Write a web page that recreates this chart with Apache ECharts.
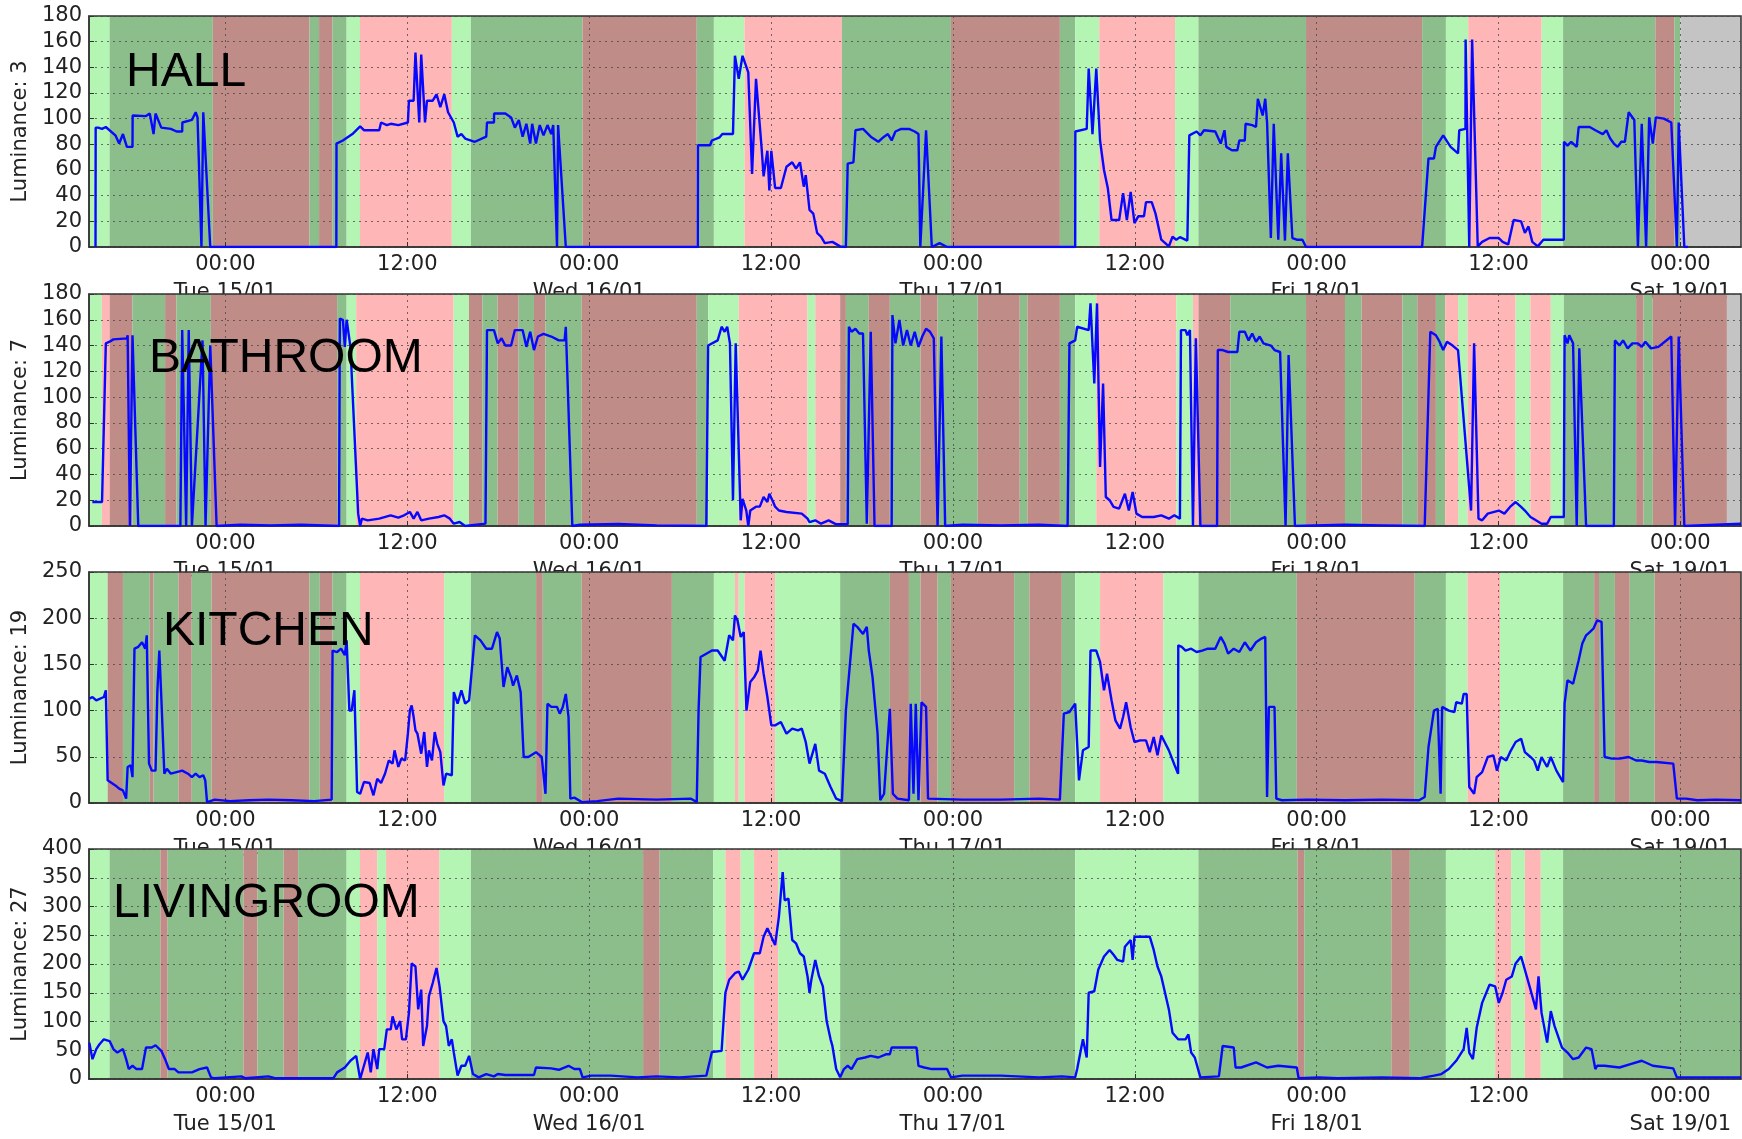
<!DOCTYPE html>
<html><head><meta charset="utf-8">
<script src="https://cdn.jsdelivr.net/npm/echarts@6/dist/echarts.min.js"></script>
<style>html,body{margin:0;padding:0;background:#fff}#c{width:1742px;height:1139px}</style>
</head><body><div id="c"></div><script>
// x values: hours relative to Tue 15/01 00:00
const tickHours = [0,12,24,36,48,60,72,84,96];
const dayLabels = ['Tue 15/01','Wed 16/01','Thu 17/01','Fri 18/01','Sat 19/01'];
const roomNames = ['HALL','BATHROOM','KITCHEN','LIVINGROOM'];
const sensorIds = [3,7,19,27];
const yMaxes = [180,180,250,400];
const ySteps = [20,20,50,50];

const hallLine = [[-8.57,0],[-8.56,93],[-8.40,93],[-8.14,92],[-7.89,93.5],[-7.26,87],[-7.01,80.6],[-6.76,88],[-6.50,78],[-6.13,78],[-6.12,102.5],[-5.24,102],[-4.99,104],[-4.74,88],[-4.61,104],[-4.23,93],[-3.60,92],[-3.22,90],[-2.85,90],[-2.84,97],[-2.21,99],[-1.96,105],[-1.84,101],[-1.58,0],[-1.46,105],[-1.00,0],
[7.32,0],[7.33,80.6],[7.75,83],[8.38,88],[8.89,94],[9.14,91],[10.15,91],[10.27,97],[10.65,95],[10.91,96],[11.41,95],[12.04,97],[12.11,114],[12.42,114],[12.54,151.6],[12.79,97],[12.92,150],[13.17,97],[13.30,114],[13.68,114],[13.93,119],[14.18,109],[14.44,119],[14.69,105],[15.07,97],[15.32,86],[15.57,88],[15.82,84.5],[16.46,82],[17.21,86],[17.26,97],[17.72,97],[17.73,104],[18.47,104],[18.85,101],[19.10,93],[19.36,99],[19.61,86],[19.86,96],[20.11,80.6],[20.24,96],[20.49,80.6],[20.74,95],[20.99,87],[21.25,95],[21.50,88],[21.63,95],[21.88,0],[21.95,95],[22.46,0],
[31.17,0],[31.18,79.3],[31.98,79.3],[32.10,83],[32.61,85.5],[32.79,88],[33.49,88],[33.62,149],[33.87,131],[34.12,149],[34.50,136],[34.75,57],[35.01,131],[35.38,77],[35.51,55],[35.76,75],[35.89,44],[36.02,75],[36.27,46],[36.65,46],[37.02,62.5],[37.40,66],[37.65,61],[37.91,66],[38.16,47],[38.29,56],[38.54,29],[38.79,26],[39.04,11],[39.30,8],[39.55,3],[40.05,4],[40.56,0.5],[40.94,0],[41.06,65],[41.44,66],[41.57,91],[42.07,92],[42.58,86],[43.08,82],[43.46,86],[43.71,88],[43.96,83],[44.21,90],[44.59,92],[45.10,92],[45.48,90],[45.73,88],[45.85,0],[46.23,91],[46.61,0],[47.12,3],[47.62,0],
[56.07,0],[56.08,90],[56.83,92],[56.96,139],[57.21,88],[57.46,139],[57.71,83],[57.97,60],[58.22,46],[58.47,21],[58.97,21],[59.23,42],[59.48,21],[59.73,43],[59.98,18.6],[60.24,24],[60.61,24],[60.74,35],[61.12,35],[61.37,26],[61.75,5.7],[62.25,0.5],[62.49,8],[62.74,5.7],[62.98,7.7],[63.47,5],[63.59,5.7],[63.60,87],[64.08,90],[64.33,87],[64.57,91],[65.31,90],[65.67,80.6],[65.92,91],[66.04,78],[66.41,75.4],[66.77,75.4],[66.90,83],[67.26,83],[67.31,96],[67.75,95],[68.00,93.5],[68.12,115.5],[68.44,102.5],[68.61,115.5],[68.73,97],[68.98,7],[69.17,96],[69.47,5.7],[69.66,73],[69.91,5],[70.10,73],[70.40,7],[70.69,5.7],[71.06,5.7],[71.30,0],
[78.96,0],[79.38,69],[79.74,69],[79.87,78],[80.35,87],[80.84,78],[81.33,73],[81.41,91],[81.82,92],[81.83,161.6],[82.07,0],[82.26,161.6],[82.63,0.5],[82.92,4],[83.41,7],[84.02,7],[84.27,4],[84.64,2],[85.00,21],[85.49,20],[85.74,11],[85.98,16],[86.23,4],[86.59,0.5],[86.96,5.7],[88.31,5.7],[88.32,82],[88.55,79],[88.80,82],[89.16,78],[89.29,93.5],[90.02,93.5],[90.39,91],[90.88,88],[91.12,91],[91.37,84.5],[91.61,80.6],[91.86,78],[92.10,82],[92.34,82],[92.59,105],[92.96,99],[93.20,0],[93.45,96],[93.74,0],[93.94,101],[94.18,80.6],[94.38,101],[94.91,100],[95.40,97],[95.77,0],[95.89,97],[96.26,0],[96.50,0]];

const bathLine = [[-8.78,18.6],[-8.14,18.6],[-7.89,141.7],[-7.64,143],[-7.39,144.8],[-6.50,145.6],[-6.45,148],[-6.30,0],[-6.13,148],[-5.75,0],[-2.97,0],[-2.85,152],[-2.59,0],[-2.42,152],[-2.21,0],[-1.51,144],[-1.31,0],[-1.00,140],[-0.58,0],[1.0,1],[3.0,0.5],[5.0,1],[7.50,0],[7.55,161],[7.75,160],[7.88,139],[8.00,160],[8.25,139],[8.76,9.6],[8.89,0],[9.01,5.7],[9.39,4.4],[10.15,5.7],[10.90,8.3],[11.41,6.5],[11.79,8.3],[12.17,10.9],[12.42,5.7],[12.67,10.9],[12.92,4.4],[13.43,5.7],[14.06,7],[14.44,8.3],[14.81,5.7],[15.07,1.8],[15.45,3.1],[15.82,0],[17.16,1.8],[17.26,152],[17.72,152],[17.97,141.7],[18.22,145.6],[18.47,140],[18.85,140],[19.10,152],[19.61,152],[19.86,139],[20.11,150.7],[20.36,136.5],[20.62,147],[20.99,149],[21.50,147],[22.00,144],[22.38,144],[22.46,154.6],[22.89,0],
[23.40,1],[25.92,1.5],[28.45,0.5],[31.73,0],[31.85,140],[32.48,144],[32.74,154.6],[32.94,150.7],[33.11,154.6],[33.29,141.7],[33.49,20],[33.67,141.7],[34.00,4.4],[34.12,21],[34.37,12],[34.50,0],[34.63,12],[35.01,15],[35.26,15],[35.51,22.5],[35.76,18.6],[35.89,25],[36.14,18.6],[36.27,15],[36.52,12],[37.02,10.9],[38.03,9.6],[38.41,5.7],[38.54,3],[38.92,4.4],[39.30,1.8],[39.80,4.4],[40.30,1.3],[41.06,1.3],[41.14,154.6],[41.31,150.7],[41.57,153],[41.82,149.4],[42.07,149.4],[42.32,1.8],[42.58,150.7],[42.83,0],[43.96,0],[44.01,163.7],[44.21,141.7],[44.47,159.8],[44.72,140],[44.97,152],[45.22,140],[45.48,150.7],[45.73,139],[45.98,147],[46.23,153],[46.49,150.7],[46.74,145.6],[46.99,0],[47.24,147],[47.49,0],[48.63,1],[51.15,0.5],[53.68,1],[55.57,0],[55.69,141.7],[56.07,144],[56.20,154.6],[56.96,152],[57.08,172.7],[57.33,110.6],[57.51,172.7],[57.71,45.8],[57.91,110.6],[58.09,22.5],[58.34,20],[58.60,14.8],[58.97,13.5],[59.35,25],[59.61,12],[59.86,26.4],[60.11,9.6],[60.49,7],[61.25,7],[61.75,8.3],[62.25,5.7],[62.61,8.3],[62.98,5.7],[63.05,152],[63.35,152],[63.47,148],[63.64,152],[63.84,0],[64.03,145.6],[64.33,0],[65.43,0],[65.48,136.5],[65.80,136.5],[66.16,135],[66.77,135],[66.90,150.7],[67.26,150.7],[67.51,144],[67.75,149.4],[68.00,143],[68.24,147],[68.49,141.7],[68.98,140],[69.22,136.5],[69.59,135],[69.95,0],[70.15,132.6],[70.57,0],[73.87,1],[76.32,0.5],[79.13,0],[79.50,150.7],[79.87,148],[80.11,143],[80.35,136.5],[80.60,143],[80.97,140],[81.33,136.5],[82.19,12],[82.39,141.7],[82.68,5.7],[82.92,4.4],[83.29,9.6],[84.02,12],[84.39,9.6],[84.76,14.8],[85.13,18.6],[85.49,14.8],[85.74,12],[86.11,7],[86.47,4.4],[86.84,1.8],[87.21,1.8],[87.45,7],[88.31,7],[88.36,148],[88.55,141.7],[88.67,148],[88.92,141.7],[89.16,0],[89.33,137.8],[89.78,0],[91.61,0],[91.68,144],[91.98,140],[92.22,144],[92.52,137.8],[92.83,141.7],[93.20,141.7],[93.45,139],[93.69,143],[94.06,137.8],[94.55,139],[95.40,147],[95.65,0],[95.89,147],[96.26,0],[100,1.8]];

const kitchenLine = [[-8.98,113],[-8.77,114.7],[-8.52,111],[-8.02,114.7],[-7.89,122],[-7.77,24.5],[-7.26,19],[-7.01,15.5],[-6.76,13.7],[-6.55,4.7],[-6.45,39],[-6.25,40.8],[-6.13,28],[-6.00,167],[-5.75,169],[-5.50,174],[-5.29,167],[-5.19,181.5],[-5.04,42.6],[-4.86,35],[-4.61,35],[-4.49,120],[-4.36,165],[-4.23,114.7],[-4.03,31.7],[-3.86,37],[-3.60,31.7],[-2.85,35],[-2.47,31.7],[-2.21,28],[-1.96,31.7],[-1.71,28],[-1.46,30],[-1.33,24.5],[-1.21,1],[-0.70,3.6],[0.31,2],[1.57,3],[2.83,3.6],[4.34,3],[5.86,2],[7.01,3.6],[7.07,165],[7.37,163.4],[7.63,167],[7.88,160],[8.00,176],[8.18,100],[8.33,100],[8.51,122],[8.69,12],[8.89,10],[9.14,22.7],[9.52,21.6],[9.77,8.3],[10.02,26.3],[10.27,21.6],[10.53,31.7],[10.78,46],[11.03,42.6],[11.16,57],[11.41,39],[11.61,48],[11.86,46],[12.04,75],[12.17,100],[12.29,105.7],[12.42,93],[12.54,78.6],[12.67,75],[12.92,53.4],[13.12,76.8],[13.30,39],[13.43,57],[13.63,46],[13.81,76.8],[13.98,64],[14.18,55],[14.39,19],[14.56,31.7],[14.94,30],[15.07,120],[15.32,107.5],[15.57,122],[15.82,107.5],[16.08,111],[16.46,181.5],[16.83,176],[17.21,167],[17.59,167],[17.92,185],[18.10,178],[18.35,125.6],[18.60,147],[18.85,136],[18.98,127],[19.23,138],[19.48,120],[19.68,49.8],[19.99,49.8],[20.49,55],[20.87,49.8],[21.12,10],[21.25,107.5],[21.50,104],[21.88,104],[22.06,96.7],[22.26,104],[22.46,118],[22.64,93],[22.76,4.7],[23.02,5.8],[23.52,1],[24.53,2],[25.92,4.7],[28.45,3.6],[30.72,4.7],[31.10,1],[31.22,100],[31.35,158],[31.73,161.6],[32.10,165],[32.48,165],[32.94,154],[33.24,181.5],[33.49,176],[33.62,203],[33.79,197.6],[34.00,179.7],[34.20,185],[34.38,100],[34.63,131],[34.88,136],[35.13,143.6],[35.31,165],[35.51,140],[35.76,114.7],[36.02,84],[36.27,84],[36.65,87.7],[37.02,75],[37.40,80.5],[37.78,78.6],[38.03,80.5],[38.29,66],[38.54,42.6],[38.92,64],[39.17,35],[39.55,31.7],[39.93,17.3],[40.30,4.7],[40.68,2],[40.94,100],[41.19,147],[41.44,194],[41.69,190.6],[42.07,183],[42.32,190.6],[42.45,165],[42.70,136],[42.83,138],[43.03,75],[43.21,3],[43.46,10],[43.84,102],[44.04,10],[44.34,4.7],[45.10,3],[45.22,107.5],[45.40,10],[45.55,107.5],[45.73,3],[45.93,109],[46.23,104],[46.36,4.7],[48.63,3.6],[51.15,3.6],[53.68,4.7],[55.06,3.6],[55.32,96.7],[55.69,98.5],[56.07,107.5],[56.20,107.5],[56.32,24.5],[56.58,57],[56.96,60.6],[57.08,165],[57.46,165],[57.71,152.6],[57.97,122],[58.17,140],[58.47,111],[58.72,89.5],[59.03,80.5],[59.23,93],[59.43,109],[59.73,82],[59.98,66],[60.36,67.8],[60.74,67.8],[60.99,55],[61.25,71.4],[61.50,51.6],[61.75,73],[62.25,57],[62.63,40.8],[62.86,31.7],[62.87,170.6],[63.10,169],[63.35,165],[63.72,167],[64.08,163.4],[64.45,165],[64.82,167],[65.31,167],[65.67,179.7],[65.92,172.5],[66.16,161.6],[66.53,167],[66.90,163.4],[67.26,174],[67.63,165],[68.00,174],[68.36,178],[68.61,179.7],[68.73,6.5],[68.85,104],[69.22,104],[69.34,4.7],[69.71,3],[71.42,3.6],[73.87,3],[76.32,3.6],[78.76,3],[79.13,6.5],[79.38,60.6],[79.74,100],[79.99,102],[80.18,10],[80.28,104],[80.72,100],[81.09,98.5],[81.21,109],[81.58,107.5],[81.70,118],[81.90,118],[82.07,17.3],[82.39,10],[82.56,28],[82.92,33.5],[83.29,49.8],[83.66,51.6],[83.90,35],[84.15,49.8],[84.51,46],[84.76,55],[85.13,66],[85.49,69.6],[85.74,55],[86.11,49.8],[86.35,46],[86.59,35],[86.84,49.8],[87.21,39],[87.45,49.8],[87.82,35],[88.26,22.7],[88.36,107.5],[88.55,132.8],[88.92,129],[89.29,154.4],[89.53,172.5],[89.78,181.5],[90.02,185],[90.26,188.7],[90.51,197.7],[90.80,196],[91.00,49.8],[91.49,48],[91.98,48],[92.59,49.8],[93.08,46],[93.45,46],[93.94,44.4],[94.42,44.4],[95.53,42.6],[95.77,4.7],[96.38,4.7],[97.12,3],[98.34,3.6],[100,3]];

const livingLine = [[-8.98,63],[-8.77,34.5],[-8.52,52],[-8.32,60],[-8.02,69],[-7.64,66],[-7.39,52],[-7.13,46],[-6.76,52],[-6.55,34.5],[-6.38,17.3],[-6.13,23],[-5.87,17.3],[-5.50,17.3],[-5.24,54.7],[-4.86,54.7],[-4.61,58.7],[-4.23,49],[-3.98,34.5],[-3.73,17.3],[-3.35,17.3],[-3.10,11.5],[-2.21,11.5],[-1.71,17.3],[-1.21,20],[-0.95,2.9],[-0.70,1.2],[1.06,4.6],[1.32,1.2],[2.83,4.6],[3.34,1.2],[5.35,1.2],[7.12,1.2],[7.37,11.5],[7.88,20],[8.25,31.7],[8.63,40.3],[8.89,0],[9.14,23],[9.39,46],[9.59,11.5],[9.77,52],[10.02,17.3],[10.15,52],[10.48,52],[10.65,86.3],[10.91,86.3],[11.03,109],[11.28,86.3],[11.53,100.7],[11.66,69],[11.91,69],[12.11,115],[12.29,201],[12.54,195.7],[12.72,121],[12.92,155.4],[13.05,57.5],[13.30,92],[13.43,144],[13.68,167],[13.93,193],[14.13,161],[14.39,100.7],[14.56,92],[14.74,57.5],[14.94,69],[15.07,46],[15.32,5.8],[15.57,23],[15.82,23],[16.08,40.3],[16.33,8.6],[16.71,2.9],[17.21,8.6],[17.72,4.6],[17.97,8.6],[18.47,6.9],[20.36,6.9],[20.49,20],[21.50,18.4],[22.00,16],[22.64,23],[23.02,17.3],[23.39,17.3],[23.57,2.9],[24.15,5.8],[25.42,5.8],[27.18,2.9],[28.45,4.6],[29.96,2.9],[31.73,5.8],[32.10,47],[32.74,49],[32.99,150],[33.24,172.6],[33.62,184],[33.87,187],[34.12,172.6],[34.30,181],[34.50,190],[34.88,218.7],[35.26,218.7],[35.51,247.5],[35.76,262],[36.02,247.5],[36.27,233],[36.52,282],[36.77,359.7],[36.90,310.8],[37.15,313.7],[37.40,241.7],[37.65,236],[37.91,218.7],[38.16,213],[38.41,178.4],[38.54,150],[38.66,172.6],[38.92,207],[39.17,178.4],[39.42,161],[39.67,100.7],[39.93,69],[40.05,57.5],[40.30,17.3],[40.56,2.9],[40.81,17.3],[41.06,23],[41.31,17.3],[41.69,34.5],[42.20,37.4],[42.58,40.3],[43.08,37.4],[43.58,43],[43.84,43],[43.96,54.7],[45.60,54.7],[45.73,23],[46.11,20],[46.61,17.3],[47.62,17.3],[47.87,2.9],[48.63,5.8],[51.15,5.8],[53.68,2.9],[55.19,4.6],[56.07,2.9],[56.20,17.3],[56.58,69],[56.83,37.4],[56.96,150],[57.33,152.6],[57.59,190],[57.97,213],[58.34,224.5],[58.60,216],[58.85,207],[59.23,204],[59.35,230],[59.73,241.7],[59.86,207],[59.98,247.5],[60.99,247.5],[61.25,224.5],[61.50,195.7],[61.75,178.4],[62.25,121],[62.49,80.6],[62.86,69],[63.35,69],[63.54,77.7],[63.72,46],[63.96,37.4],[64.33,2.9],[65.55,4.6],[65.80,57.5],[66.53,54.7],[66.65,20],[67.02,20],[68.00,28.8],[68.73,20],[69.47,23],[70.69,20],[70.81,1.2],[72.16,2.9],[73.38,1.2],[76.32,2.9],[78.76,1.2],[79.74,5.8],[80.23,8.6],[80.72,17.3],[81.21,31.7],[81.70,52],[81.90,89],[82.07,46],[82.31,34.5],[82.56,89],[82.92,132.4],[83.41,164],[83.78,161],[84.02,132.4],[84.27,150],[84.51,172.6],[84.88,178.4],[85.13,201],[85.49,213],[85.74,190],[86.11,155.4],[86.47,121],[86.64,178.4],[86.84,115],[87.21,63.3],[87.45,118],[87.70,92],[88.19,54.7],[88.55,46],[88.92,34.5],[89.29,37.4],[89.78,54.7],[90.14,52],[90.39,17.3],[90.51,23],[91.00,23],[91.98,20],[92.71,25.9],[93.45,31.7],[94.18,23],[95.53,18.4],[95.77,2.9],[97.12,2.9],[100,2.9]];

// background states: [start hour, end hour, state]
const hallBands = [[-9,-7.64,'L'],[-7.64,-0.83,'D'],[-0.83,5.55,'B'],[5.55,6.18,'D'],[6.18,7.07,'B'],[7.07,8.0,'D'],[8.0,8.88,'L'],[8.88,14.94,'P'],[14.94,16.2,'L'],[16.2,23.57,'D'],[23.57,31.1,'B'],[31.1,32.23,'D'],[32.23,34.25,'L'],[34.25,40.68,'P'],[40.68,47.87,'D'],[47.87,55.06,'B'],[55.06,56.07,'D'],[56.07,57.66,'L'],[57.66,62.66,'P'],[62.66,64.2,'L'],[64.2,71.3,'D'],[71.3,78.96,'B'],[78.96,80.53,'D'],[80.53,82.0,'L'],[82.0,86.85,'P'],[86.85,88.26,'L'],[88.26,94.35,'D'],[94.35,95.6,'B'],[95.6,96.0,'D'],[96.0,100,'G']];
const bathBands = [[-9,-8.15,'L'],[-8.15,-7.64,'P'],[-7.64,-6.13,'B'],[-6.13,-3.98,'D'],[-3.98,-3.23,'B'],[-3.23,-0.96,'D'],[-0.96,7.37,'B'],[7.37,8.0,'D'],[8.0,8.63,'L'],[8.63,15.06,'P'],[15.06,16.07,'L'],[16.07,16.95,'B'],[16.95,17.96,'D'],[17.96,19.35,'B'],[19.35,20.36,'D'],[20.36,21.12,'B'],[21.12,23.51,'D'],[23.51,31.1,'B'],[31.1,31.85,'D'],[31.85,33.87,'L'],[33.87,38.41,'P'],[38.41,38.92,'L'],[38.92,40.56,'P'],[40.56,40.94,'B'],[40.94,42.45,'D'],[42.45,43.84,'B'],[43.84,45.86,'D'],[45.86,46.99,'B'],[46.99,49.64,'D'],[49.64,52.41,'B'],[52.41,52.92,'D'],[52.92,55.06,'B'],[55.06,56.07,'D'],[56.07,57.46,'L'],[57.46,62.74,'P'],[62.74,63.84,'L'],[63.84,64.2,'P'],[64.2,66.3,'B'],[66.3,71.3,'D'],[71.3,73.87,'B'],[73.87,74.97,'D'],[74.97,77.66,'B'],[77.66,78.64,'D'],[78.64,79.87,'B'],[79.87,80.48,'D'],[80.48,81.33,'P'],[81.33,81.95,'L'],[81.95,85.13,'P'],[85.13,86.1,'L'],[86.1,87.45,'P'],[87.45,88.31,'L'],[88.31,93.08,'D'],[93.08,93.57,'B'],[93.57,94.18,'D'],[94.18,99.07,'B'],[99.07,100,'G']];
const kitchenBands = [[-9,-7.77,'L'],[-7.77,-6.76,'B'],[-6.76,-4.99,'D'],[-4.99,-4.74,'B'],[-4.74,-3.1,'D'],[-3.1,-2.22,'B'],[-2.22,-0.91,'D'],[-0.91,5.55,'B'],[5.55,6.23,'D'],[6.23,7.07,'B'],[7.07,8.0,'D'],[8.0,8.88,'L'],[8.88,14.43,'P'],[14.43,16.2,'L'],[16.2,20.5,'D'],[20.5,20.94,'B'],[20.94,23.51,'D'],[23.51,29.46,'B'],[29.46,32.23,'D'],[32.23,33.62,'L'],[33.62,33.87,'P'],[33.87,34.25,'L'],[34.25,36.27,'P'],[36.27,40.56,'L'],[40.56,43.84,'D'],[43.84,45.1,'B'],[45.1,45.86,'D'],[45.86,46.99,'B'],[46.99,47.87,'D'],[47.87,52.04,'B'],[52.04,53.05,'D'],[53.05,55.19,'B'],[55.19,56.07,'D'],[56.07,57.71,'L'],[57.71,61.88,'P'],[61.88,64.2,'L'],[64.2,70.69,'D'],[70.69,78.47,'B'],[78.47,80.53,'D'],[80.53,81.95,'L'],[81.95,84.1,'P'],[84.1,88.26,'L'],[88.26,90.31,'D'],[90.31,90.63,'B'],[90.63,91.68,'D'],[91.68,92.66,'B'],[92.66,94.3,'D'],[94.3,100,'B']];
const livingBands = [[-9,-7.64,'L'],[-7.64,-4.29,'D'],[-4.29,-3.81,'B'],[-3.81,1.19,'D'],[1.19,2.12,'B'],[2.12,3.84,'D'],[3.84,4.8,'B'],[4.8,8.0,'D'],[8.0,8.88,'L'],[8.88,10.02,'P'],[10.02,10.6,'L'],[10.6,14.13,'P'],[14.13,16.2,'L'],[16.2,27.56,'D'],[27.56,28.65,'B'],[28.65,32.18,'D'],[32.18,32.99,'L'],[32.99,34.0,'P'],[34.0,34.88,'L'],[34.88,36.47,'P'],[36.47,40.56,'L'],[40.56,56.07,'D'],[56.07,64.2,'L'],[64.2,70.74,'D'],[70.74,71.18,'B'],[71.18,76.93,'D'],[76.93,78.15,'B'],[78.15,80.53,'D'],[80.53,83.78,'L'],[83.78,84.83,'P'],[84.83,85.74,'L'],[85.74,86.79,'P'],[86.79,88.26,'L'],[88.26,100,'D']];

const lines = [hallLine, bathLine, kitchenLine, livingLine];
const bands = [hallBands, bathBands, kitchenBands, livingBands];

const stateColors = {L:'#b4f5b4', D:'#8cbe8c', B:'#c08c88', P:'#ffb6b6', G:'#c4c4c4'};
const layout = [
  {top:16, height:231, lx:126, ly:73},
  {top:294, height:232, lx:149, ly:359},
  {top:572, height:231, lx:163, ly:632},
  {top:849, height:231, lx:113, ly:904}
];
const FONT = '"DejaVu Sans", "Bitstream Vera Sans", sans-serif';
const dotted = {type:[2,4], color:'#444', width:1, opacity:0.75};

const grids=[], xAxes=[], yAxes=[], series=[], graphics=[];
for (let i=0;i<4;i++){
  const base = i*10;
  const L = layout[i];
  grids.push({left:89, right:1, top:L.top, height:L.height, show:true, z:base+3,
    backgroundColor:'rgba(0,0,0,0)', borderColor:'#333', borderWidth:1.5});
  xAxes.push({type:'value', gridIndex:i, min:-9, max:100, z:base+3,
    axisLine:{show:true, onZero:false, lineStyle:{color:'#333', width:1.5}},
    axisTick:{show:true, inside:true, length:5, customValues:tickHours, lineStyle:{color:'#333'}},
    axisLabel:{customValues:tickHours, fontSize:21, lineHeight:28, color:'#222', fontFamily:FONT, margin:4,
      formatter:function(v){ return (v % 24 === 0) ? ('00:00\n' + dayLabels[v/24]) : '12:00'; }},
    splitLine:{show:true, lineStyle:dotted}
  });
  yAxes.push({type:'value', gridIndex:i, min:0, max:yMaxes[i], interval:ySteps[i], z:base+3,
    name:'Luminance: ' + sensorIds[i], nameLocation:'middle', nameGap:56,
    nameTextStyle:{fontSize:21, color:'#222', fontFamily:FONT},
    axisLine:{show:true, onZero:false, lineStyle:{color:'#333', width:1.5}},
    axisTick:{show:true, inside:true, length:5, lineStyle:{color:'#333'}},
    axisLabel:{fontSize:21, color:'#222', fontFamily:FONT, margin:7},
    splitLine:{show:true, lineStyle:dotted}
  });
  series.push({type:'line', xAxisIndex:i, yAxisIndex:i, z:base+1, data:lines[i],
    showSymbol:false, silent:true, lineStyle:{opacity:0},
    markArea:{silent:true, z:base+1, data: bands[i].map(b => [
      {xAxis:b[0], itemStyle:{color:stateColors[b[2]], opacity:1}}, {xAxis:b[1]}
    ])}
  });
  series.push({type:'line', xAxisIndex:i, yAxisIndex:i, z:base+5, data:lines[i],
    showSymbol:false, silent:true, lineStyle:{color:'#0808ff', width:2.4}});
  graphics.push({type:'text', x:L.lx, y:L.ly, z:100,
    style:{text:roomNames[i], fill:'#000', font:'48px "Liberation Sans", Arial, sans-serif',
      textVerticalAlign:'middle', verticalAlign:'middle'}});
}

const chart = echarts.init(document.getElementById('c'), null, {renderer:'canvas'});
chart.setOption({
  animation:false,
  backgroundColor:'#fff',
  grid:grids, xAxis:xAxes, yAxis:yAxes, series:series, graphic:graphics
});
</script></body></html>
